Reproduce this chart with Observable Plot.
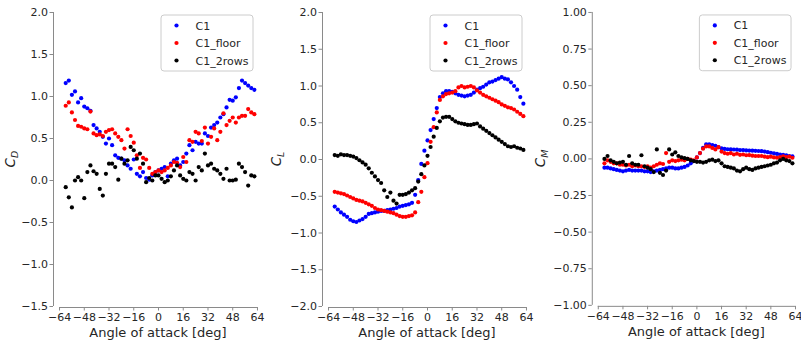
<!DOCTYPE html>
<html><head><meta charset="utf-8">
<script src="https://cdn.jsdelivr.net/npm/d3@7"></script>
<script src="https://cdn.jsdelivr.net/npm/@observablehq/plot@0.6"></script>
<style>
html,body{margin:0;padding:0;background:#fff;overflow:hidden;}
#wrap{position:relative;width:801px;height:342px;overflow:hidden;background:#fff;}
.panel{position:absolute;top:0;}
</style></head><body><div id="wrap"></div>
<script>
// ---- data ----
const aoa = [-60,-58,-56,-54,-52,-50,-48,-46,-44,-42,-40,-38,-36,-34,-32,-30,-28,-26,-24,-22,-20,-18,-16,-14,-12,-10,-8,-6,-4,-2,0,2,4,6,8,10,12,14,16,18,20,22,24,26,28,30,32,34,36,38,40,42,44,46,48,50,52,54,56,58,60,62];
const seriesNames = ["C1", "C1_floor", "C1_2rows"];
const xTicks = [-64,-48,-32,-16,0,16,32,48,64];
const cdTicks = [-1.5,-1.0,-0.5,0.0,0.5,1.0,1.5,2.0];
const clTicks = [-2.0,-1.5,-1.0,-0.5,0.0,0.5,1.0,1.5,2.0];
const cmTicks = [-1.00,-0.75,-0.50,-0.25,0.00,0.25,0.50,0.75,1.00];

const CD_C1 = [1.16,1.19,1.02,1.06,0.93,0.98,0.88,0.86,0.83,0.66,0.62,0.58,0.52,0.44,0.50,0.42,0.30,0.27,0.26,0.24,0.18,0.14,0.25,0.08,0.05,0.10,0.03,0.01,0.06,0.10,0.12,0.14,0.16,0.05,0.20,0.24,0.26,0.18,0.22,0.32,0.42,0.36,0.46,0.44,0.44,0.56,0.53,0.63,0.66,0.69,0.75,0.79,0.87,0.96,0.95,0.99,1.10,1.19,1.16,1.13,1.10,1.08];
const CD_floor = [0.89,0.93,0.81,0.72,0.65,0.64,0.62,0.61,0.82,0.56,0.54,0.55,0.53,0.58,0.60,0.61,0.56,0.52,0.48,0.38,0.61,0.53,0.45,0.30,0.15,0.27,0.25,0.15,0.08,0.10,0.12,0.10,0.12,0.15,0.18,0.22,0.21,0.16,0.28,0.22,0.48,0.46,0.58,0.56,0.47,0.63,0.44,0.52,0.62,0.48,0.58,0.80,0.66,0.71,0.75,0.69,0.75,0.77,0.77,0.85,0.81,0.79];
const CD_2rows = [-0.08,-0.20,-0.32,0.00,0.04,0.00,-0.21,0.10,0.18,0.11,0.08,-0.10,-0.18,0.08,0.20,0.20,0.16,0.01,0.26,0.20,0.24,0.40,0.36,0.26,0.32,0.20,-0.02,0.03,0.00,0.06,0.06,0.02,-0.02,0.00,0.05,0.12,0.18,0.06,0.02,0.00,0.10,0.08,0.00,0.16,0.12,0.32,0.18,0.20,0.14,0.12,0.08,0.02,0.14,0.00,0.00,0.01,0.20,0.16,0.10,-0.06,0.06,0.05];

const CL_C1 = [-0.64,-0.68,-0.72,-0.75,-0.78,-0.82,-0.84,-0.85,-0.83,-0.81,-0.78,-0.74,-0.73,-0.72,-0.71,-0.70,-0.70,-0.69,-0.68,-0.67,-0.66,-0.64,-0.63,-0.62,-0.61,-0.59,-0.48,-0.28,-0.06,0.12,0.26,0.40,0.55,0.70,0.85,0.90,0.93,0.93,0.92,0.90,0.88,0.87,0.86,0.87,0.88,0.91,0.95,0.97,0.99,1.02,1.05,1.06,1.08,1.10,1.12,1.10,1.09,1.05,1.00,0.95,0.85,0.76];
const CL_floor = [-0.44,-0.45,-0.46,-0.47,-0.49,-0.51,-0.53,-0.55,-0.56,-0.57,-0.59,-0.61,-0.63,-0.66,-0.68,-0.69,-0.70,-0.71,-0.72,-0.73,-0.75,-0.77,-0.78,-0.78,-0.77,-0.76,-0.72,-0.58,-0.44,-0.24,-0.05,0.24,0.44,0.64,0.81,0.86,0.89,0.90,0.91,0.93,0.98,1.00,0.98,0.99,1.00,0.98,0.94,0.91,0.88,0.86,0.84,0.82,0.80,0.78,0.75,0.73,0.71,0.70,0.68,0.65,0.62,0.59];
const CL_2rows = [0.06,0.05,0.07,0.06,0.06,0.05,0.04,0.02,-0.01,-0.04,-0.07,-0.12,-0.18,-0.23,-0.28,-0.32,-0.42,-0.51,-0.45,-0.56,-0.60,-0.48,-0.48,-0.47,-0.45,-0.42,-0.39,-0.30,-0.20,-0.08,0.05,0.17,0.31,0.43,0.52,0.57,0.58,0.58,0.55,0.52,0.50,0.49,0.48,0.47,0.47,0.48,0.49,0.45,0.42,0.39,0.36,0.33,0.30,0.27,0.24,0.21,0.18,0.17,0.18,0.16,0.15,0.13];

const CM_C1 = [-0.06,-0.06,-0.065,-0.07,-0.075,-0.08,-0.085,-0.08,-0.075,-0.08,-0.08,-0.08,-0.08,-0.085,-0.085,-0.09,-0.085,-0.08,-0.075,-0.07,-0.065,-0.06,-0.06,-0.065,-0.065,-0.06,-0.055,-0.045,-0.03,-0.015,0.01,0.04,0.075,0.10,0.10,0.095,0.09,0.08,0.072,0.068,0.066,0.065,0.064,0.063,0.06,0.06,0.058,0.057,0.056,0.055,0.054,0.053,0.05,0.046,0.042,0.038,0.034,0.03,0.027,0.024,0.02,0.018];
const CM_floor = [-0.03,-0.01,-0.02,-0.03,-0.03,-0.04,-0.04,-0.045,-0.04,-0.05,-0.045,-0.05,-0.05,-0.055,-0.05,-0.06,-0.05,-0.04,-0.03,-0.035,0.04,-0.02,-0.01,-0.015,-0.01,-0.005,-0.01,0.00,-0.005,-0.01,0.01,0.04,0.07,0.085,0.085,0.075,0.065,0.08,0.05,0.04,0.035,0.04,0.03,0.035,0.028,0.03,0.025,0.026,0.022,0.02,0.02,0.02,0.015,0.012,0.015,0.01,0.008,0.012,0.018,0.012,0.015,0.008];
const CM_2rows = [0.00,0.02,-0.01,-0.02,-0.03,-0.025,-0.02,-0.04,0.02,-0.03,-0.04,-0.04,0.025,-0.05,-0.06,-0.07,-0.09,0.065,-0.095,-0.11,-0.08,0.065,0.03,0.045,0.02,0.01,0.005,0.00,-0.01,-0.015,-0.02,-0.02,-0.025,-0.02,-0.01,-0.005,-0.015,-0.01,-0.03,-0.05,-0.055,-0.06,-0.065,-0.08,-0.085,-0.07,-0.06,-0.07,-0.075,-0.065,-0.06,-0.055,-0.05,-0.045,-0.04,-0.03,-0.025,-0.01,0.00,-0.01,-0.015,-0.03];

const colors = ["#0000ff", "#ff0000", "#000000"];

// ---- layout ----
const H = 342;
const FONT = "DejaVu Sans, sans-serif";
const panels = [
  {left: 0,   marginLeft: 53, width: 267, ticks: cdTicks, digits: 1, sub: "D", labelX: 15, series: [CD_C1, CD_floor, CD_2rows]},
  {left: 267, marginLeft: 55, width: 267, ticks: clTicks, digits: 1, sub: "L", labelX: 14, series: [CL_C1, CL_floor, CL_2rows]},
  {left: 534, marginLeft: 58, width: 268, ticks: cmTicks, digits: 2, sub: "M", labelX: 11, series: [CM_C1, CM_floor, CM_2rows]}
];
const xPad = 3.9; // axis limits beyond outer ticks (deg)
const spine = "#8a8a8a";
const textCol = "#262626";
const fmt = (k) => (d) => (d < 0 ? "\u2212" : "") + Math.abs(d).toFixed(k);

const wrap = document.getElementById("wrap");

panels.forEach((p) => {
  const xDomain = [xTicks[0] - xPad, xTicks[xTicks.length - 1] + xPad];
  const yDomain = [p.ticks[0], p.ticks[p.ticks.length - 1]];
  const marks = [
    Plot.ruleX([xDomain[0]], {y1: yDomain[0], y2: yDomain[1], stroke: spine, strokeWidth: 1}),
    Plot.ruleY([yDomain[0]], {x1: xTicks[0], x2: xTicks[xTicks.length - 1], stroke: spine, strokeWidth: 1, dy: 1}),
    Plot.axisX({ticks: xTicks, tickFormat: fmt(0), tickSize: 3.5, tickPadding: 2, label: null, stroke: spine, fill: textCol, dy: 1, fontSize: 11}),
    Plot.axisY({ticks: p.ticks, tickFormat: fmt(p.digits), tickSize: 3.5, tickPadding: 2, label: null, stroke: spine, fill: textCol, fontSize: 11})
  ];
  p.series.forEach((vals, i) => {
    marks.push(Plot.dot(vals, {x: aoa, y: vals, fill: colors[i], r: 2.1, stroke: "none"}));
  });
  const svg = Plot.plot({
    width: p.width, height: H,
    marginLeft: p.marginLeft, marginRight: p.width - p.marginLeft - 210,
    marginTop: 12, marginBottom: 36,
    x: {domain: xDomain},
    y: {domain: yDomain},
    style: {fontFamily: FONT, fontSize: "11px", color: textCol, background: "white", overflow: "visible"},
    marks
  });
  const div = document.createElement("div");
  div.className = "panel";
  div.style.left = p.left + "px";
  div.appendChild(svg);
  wrap.appendChild(div);

  const sx = svg.scale("x"), sy = svg.scale("y");
  const g = d3.select(svg).append("g").attr("font-family", FONT).attr("fill", textCol);

  // x label
  g.append("text")
    .attr("x", sx.apply(0)).attr("y", 337)
    .attr("text-anchor", "middle").attr("font-size", 13)
    .text("Angle of attack [deg]");

  // y label
  const yc = (sy.apply(yDomain[0]) + sy.apply(yDomain[1])) / 2;
  const yl = g.append("text")
    .attr("transform", `translate(${p.labelX},${yc}) rotate(-90)`)
    .attr("text-anchor", "middle").attr("font-size", 13.5);
  yl.append("tspan").attr("font-style", "italic").text("C");
  yl.append("tspan").attr("font-size", 9.5).attr("font-style", "italic").attr("dy", 3).text(p.sub);

  // legend
  const right = sx.apply(xDomain[1]) - 10;
  const bw = 92, bh = 56, bx = right - bw, by = 15;
  const lg = g.append("g").attr("text-anchor", "start");
  lg.append("rect").attr("x", bx).attr("y", by).attr("width", bw).attr("height", bh)
    .attr("rx", 3).attr("fill", "white").attr("fill-opacity", 0.8).attr("stroke", "#cccccc");
  seriesNames.forEach((name, i) => {
    const cy = by + 10.5 + i * 17.5;
    lg.append("circle").attr("cx", bx + 15.5).attr("cy", cy).attr("r", 2.1).attr("fill", colors[i]);
    lg.append("text").attr("x", bx + 34.5).attr("y", cy + 4).attr("font-size", 11)
      .attr("text-anchor", "start").text(name);
  });
});
</script>
</body></html>
